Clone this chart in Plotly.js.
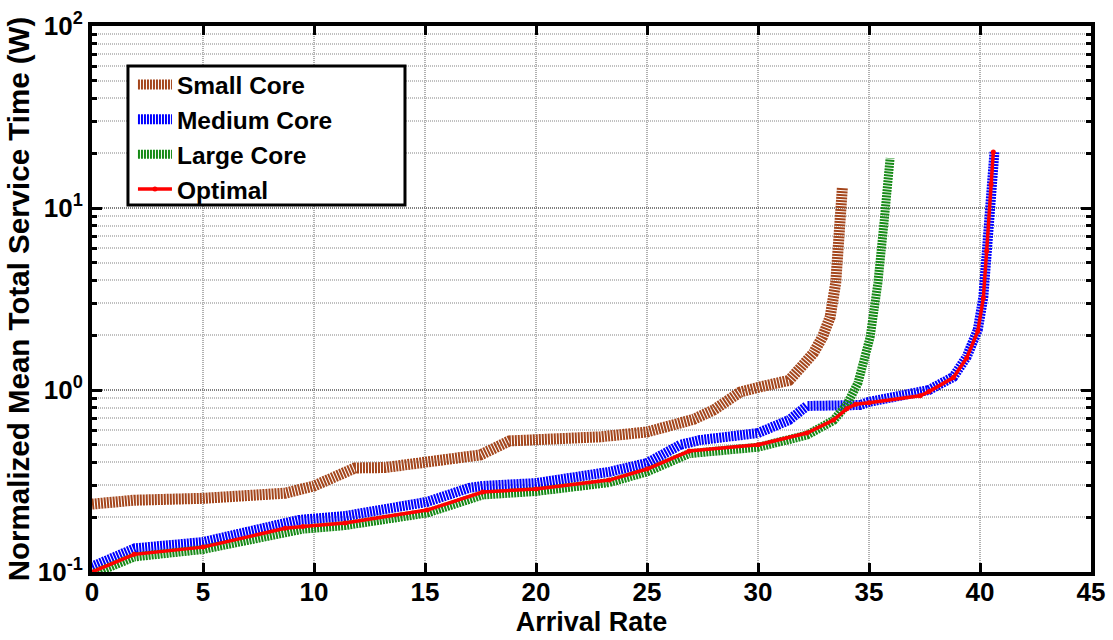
<!DOCTYPE html>
<html>
<head>
<meta charset="utf-8">
<script src="https://cdn.plot.ly/plotly-3.0.1.min.js"></script>
<style>html,body{margin:0;padding:0;background:#fff;}#chart{width:1113px;height:640px;}</style>
</head>
<body>
<div id="chart"></div>
<script>
// ---- data ----
const seriesNames = ["Small Core", "Medium Core", "Large Core", "Optimal"];

const smallX = [0, 1.9, 5, 8.7, 10, 10.7, 11.85, 13.2, 15.1, 17.5, 18.8, 20, 22.9, 25, 27.1, 28, 29.2, 30.1, 31.4, 31.9, 32.5, 32.9, 33.25, 33.5, 33.7, 33.8];
const smallY = [0.236, 0.248, 0.254, 0.271, 0.297, 0.328, 0.373, 0.375, 0.397, 0.44, 0.525, 0.531, 0.553, 0.588, 0.69, 0.776, 0.975, 1.04, 1.13, 1.32, 1.6, 1.95, 2.52, 3.87, 7.3, 12.9];

const mediumX = [0, 1.5, 1.94, 5, 8.7, 9.3, 11.4, 15.1, 17.0, 17.6, 20, 23.3, 25, 26.5, 27.4, 30, 31.4, 32.2, 34.6, 35, 37.7, 38.8, 39.4, 39.9, 40.15, 40.3, 40.5, 40.65];
const mediumY = [0.107, 0.130, 0.135, 0.146, 0.188, 0.193, 0.203, 0.243, 0.29, 0.297, 0.308, 0.355, 0.397, 0.50, 0.531, 0.58, 0.684, 0.817, 0.827, 0.86, 1.0, 1.18, 1.52, 2.14, 3.24, 5.9, 13.7, 20.3];

const largeX = [0, 1.9, 5, 8.7, 9.5, 11.4, 15.1, 17.6, 20, 23.3, 25, 26.9, 30, 32.2, 33.4, 34, 34.5, 35.05, 35.4, 35.7, 35.95];
const largeY = [0.097, 0.121, 0.133, 0.168, 0.172, 0.180, 0.211, 0.265, 0.277, 0.31, 0.355, 0.447, 0.485, 0.565, 0.68, 0.83, 1.09, 1.95, 3.87, 8.9, 18.8];

const optimalX = [0, 1.9, 5, 8.7, 9.5, 11.4, 15.1, 17.6, 20, 23.3, 25, 26.9, 30, 32.2, 33.4, 34, 34.4, 35, 37.3, 37.7, 38.8, 39.4, 39.9, 40.15, 40.3, 40.5, 40.6];
const optimalY = [0.100, 0.125, 0.137, 0.174, 0.178, 0.186, 0.219, 0.275, 0.286, 0.32, 0.368, 0.462, 0.50, 0.58, 0.684, 0.79, 0.835, 0.85, 0.93, 0.98, 1.17, 1.5, 2.1, 3.2, 5.8, 13.5, 20.3];

const xTickVals = [0, 5, 10, 15, 20, 25, 30, 35, 40, 45];
const yTickVals = [0.1, 1, 10, 100];
const yTickText = ["10<sup>-1</sup>", "10<sup>0</sup>", "10<sup>1</sup>", "10<sup>2</sup>"];

// ---- styling ----
const BOLD = "Liberation Sans, Arial, sans-serif";
const stripe = "2px,1px";

const traces = [
  {x: smallX, y: smallY, name: seriesNames[0], mode: "lines", legendgroup: "a",
   line: {color: "#a4461c", width: 11, dash: stripe}},
  {x: mediumX, y: mediumY, name: seriesNames[1], mode: "lines", legendgroup: "b",
   line: {color: "#0000ff", width: 10, dash: stripe}},
  {x: largeX, y: largeY, name: seriesNames[2], mode: "lines", legendgroup: "c",
   line: {color: "#168a16", width: 9, dash: stripe}},
  {x: optimalX, y: optimalY, name: seriesNames[3], mode: "lines+markers", legendgroup: "d",
   line: {color: "#ff0000", width: 3.5}, marker: {color: "#ff0000", size: 5, symbol: "circle"}}
];

const layout = {
  width: 1113, height: 640,
  margin: {l: 92, r: 22, t: 26, b: 68},
  paper_bgcolor: "#fff", plot_bgcolor: "#fff",
  showlegend: true,
  legend: {
    x: 0.041, y: 0.934, xanchor: "left", yanchor: "top",
    bgcolor: "rgba(0,0,0,0)", borderwidth: 0,
    font: {family: BOLD, size: 24.5, color: "#000", weight: "bold"},
    traceorder: "grouped", tracegroupgap: 0, itemwidth: 34
  },
  shapes: [{
    type: "rect", xref: "paper", yref: "paper", layer: "above",
    x0: 0.036, x1: 0.3133, y0: 0.6722, y1: 0.9267,
    fillcolor: "#fff", line: {color: "#000", width: 3}
  }],
  xaxis: {
    range: [0, 45], tickvals: xTickVals, ticktext: xTickVals.map(String),
    showline: true, linecolor: "#000", linewidth: 4, mirror: "ticks",
    ticks: "inside", ticklen: 9, tickwidth: 3, tickcolor: "#000",
    showgrid: true, gridcolor: "#b0b0b0", gridwidth: 2, griddash: "1px,1px",
    zeroline: false, ticklabelstandoff: -6,
    tickfont: {family: BOLD, size: 26, color: "#000", weight: "bold"},
    title: {text: "Arrival Rate", font: {family: BOLD, size: 27, color: "#000", weight: "bold"}, standoff: 2}
  },
  yaxis: {
    type: "log", range: [-1, 2], tickvals: yTickVals, ticktext: yTickText,
    showline: true, linecolor: "#000", linewidth: 4, mirror: "ticks",
    ticks: "inside", ticklen: 10, tickwidth: 3, tickcolor: "#000",
    showgrid: true, gridcolor: "#808080", gridwidth: 2, griddash: "1px,1px",
    zeroline: false,
    minor: {dtick: "D1", ticks: "inside", ticklen: 5, tickwidth: 3, tickcolor: "#000",
            showgrid: true, gridcolor: "#c0c0c0", gridwidth: 2, griddash: "1px,1px"},
    tickfont: {family: BOLD, size: 26, color: "#000", weight: "bold"},
    title: {text: "Normalized Mean Total Service Time (W)", font: {family: BOLD, size: 29.5, color: "#000", weight: "bold"}, standoff: 0}
  }
};

Plotly.newPlot("chart", traces, layout, {displayModeBar: false, staticPlot: true});
</script>
</body>
</html>
